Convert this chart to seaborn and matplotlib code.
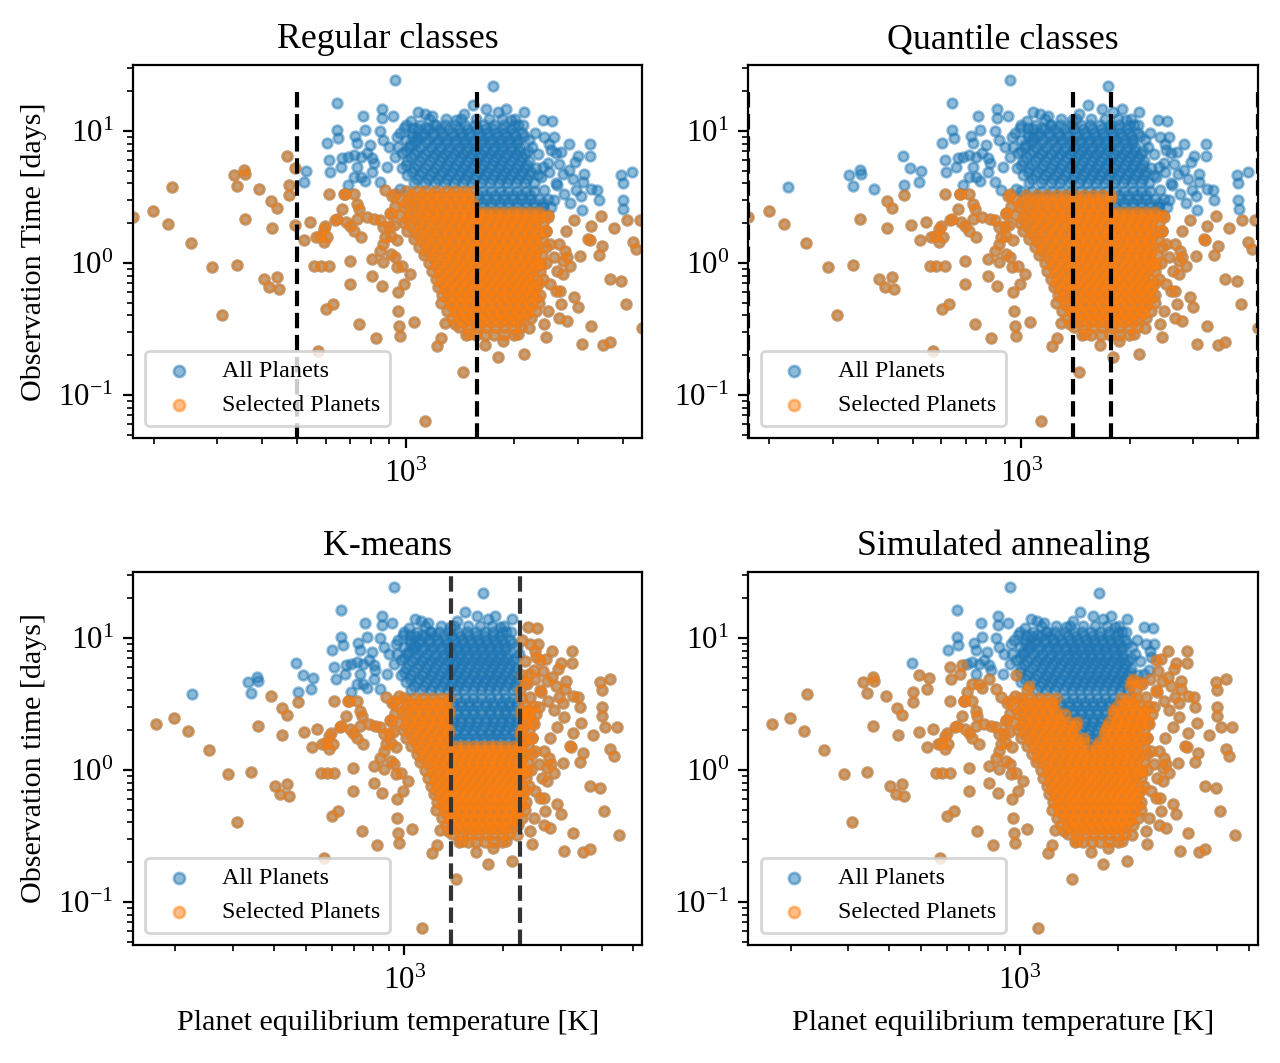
import numpy as np
import pandas as pd
import matplotlib
matplotlib.use("Agg")
import matplotlib.pyplot as plt
import seaborn as sns

# ---------------- data ----------------
# scattered planets: equilibrium temperature [K] and observation time [days]
sparse_temp = [
    175, 199, 219, 225, 253, 290, 308, 333, 341, 356, 358, 341, 357, 391, 403, 418, 438, 444,
    423, 438, 425, 468, 473, 473, 491, 521, 527, 494, 522, 543, 570, 557, 581, 612, 601, 628,
    591, 605, 612,
    603, 612, 617, 643, 643, 650, 666, 659, 724, 733, 760, 768, 733, 750, 768, 716, 806, 846,
    690, 796, 806, 816, 857, 857, 920, 931, 846, 866, 898, 942, 988, 690, 716, 750, 778, 887,
    931, 976, 1024, 1074, 1080, 1127, 1182, 1036, 1044, 1132, 1210, 1531, 1672, 1796, 1898,
    2125, 1953, 2050, 1449, 1380, 1742,
    699, 699, 666, 643, 677, 699, 733, 742, 806, 806, 826, 846, 856, 949, 953, 957, 965, 1054,
    1133, 1216, 1255, 1285, 1442, 1796, 2125, 674, 716, 742, 635, 682, 733, 716, 750, 778, 816,
    866, 898, 909, 909, 877, 866, 846, 866, 909, 931, 942, 976, 1024, 988, 577, 563, 591, 598,
    877, 931, 965,
    1500, 1652, 1862, 2049, 2200, 1364,
    2393, 2541, 2567, 2831, 3243, 3243, 3004, 2831, 2720, 3112, 2500, 2520, 2400, 2500,
    3956, 4249, 4000, 4000, 4010, 4100, 4456, 4250, 4350, 3770, 3467, 3430, 3390, 3270, 2970,
    2860, 3070, 2930, 3270, 3200, 3500, 3430, 3040, 2760, 2730, 2860, 3230, 2780,
    3680, 3960, 4075, 4530, 3267, 3077, 3510, 3680, 3000, 2930, 2670, 2790, 2450,
    2449, 2513, 2570, 2630, 2513, 2601, 2696, 2482, 2422, 2665, 2365, 2796, 2665, 2727, 2393,
    2482, 2570, 2422, 2601, 2365, 2482, 2601, 2422, 2650, 2950, 3100, 2750, 2700, 2900, 3050,
    2620,
    915, 935, 905, 925, 945,
]
sparse_days = [
    2.23, 2.46, 1.98, 3.78, 1.41, 0.93, 0.404, 4.62, 3.84, 5.05, 4.72, 0.97, 2.14, 3.62, 0.755,
    0.653, 0.778, 0.634, 2.95, 2.62, 1.85, 6.45, 3.25, 3.88, 5.26, 4.11, 4.96, 1.95, 1.48, 2.04,
    0.215, 0.94, 0.955, 0.955, 0.447, 0.488, 1.81, 1.57, 3.35,
    8.15, 6.0, 4.9, 16.2, 10.1, 8.8, 6.2, 5.35, 9.2, 8.15, 13.0, 10.1, 5.35, 4.49, 4.18, 4.49,
    4.9, 4.1, 3.88, 7.8, 6.2, 5.67, 14.6, 12.5, 13.0, 24.5, 9.9, 8.5, 7.6, 9.0, 10.5, 6.4, 6.55,
    6.4, 6.8, 5.35, 6.4, 6.8, 7.8, 9.0, 13.8, 13.5, 13.0, 11.8, 10.5, 10.5, 11.1, 15.8, 14.6,
    14.0, 14.6, 14.0, 12.1, 11.1, 13.5, 12.1, 21.8,
    1.03, 0.692, 2.58, 2.16, 3.35, 1.89, 2.81, 0.343, 1.07, 0.80, 0.272, 2.10, 0.67, 0.598,
    0.434, 0.333, 0.28, 0.36, 0.063, 0.235, 0.272, 0.353, 0.150, 0.195, 0.205, 3.31, 3.35, 2.58,
    2.10, 2.04, 2.16, 1.76, 1.57, 2.23, 2.16, 1.87, 1.92, 2.36, 1.61, 1.57, 1.39, 1.24, 1.01,
    1.17, 1.10, 0.93, 0.955, 0.825, 0.69, 1.61, 1.57, 1.44, 1.92,
    3.55, 3.35, 3.66,
    0.288, 0.241, 0.256, 0.288, 0.324, 0.343,
    12.1, 11.8, 9.06, 7.9, 7.9, 6.45, 6.45, 5.05, 4.75, 4.7, 8.0, 7.2, 5.3, 4.9,
    4.6, 4.9, 4.0, 2.98, 2.58, 2.1, 2.1, 1.44, 1.28, 1.85, 2.25, 2.98, 3.55, 3.66, 3.55,
    2.85, 2.5, 2.1, 1.92, 1.52, 1.35, 1.14, 1.12, 1.24, 1.04, 0.94, 1.48, 1.76,
    0.755, 0.73, 0.487, 0.32, 0.333, 0.245, 0.24, 0.25, 0.46, 0.555, 0.616, 0.364, 0.275,
    1.76, 1.39, 1.10, 0.874, 0.692, 0.616, 0.487, 0.434, 0.343, 0.386, 0.982, 1.10, 1.39, 0.825,
    2.65, 2.23, 2.98, 3.55, 4.0, 4.49, 5.68, 6.75, 9.06, 5.6, 5.8, 4.1, 3.3, 6.9, 4.3, 3.2,
    3.9,
    3.2, 2.7, 2.4, 1.95, 1.5,
]

# dense core of the distribution, estimated row by row (days, temperatures)
core_days = [12.3, 11.0, 10.3, 9.7, 9.1, 8.6, 8.1, 7.6, 7.1, 6.7, 6.3, 5.9, 5.55, 5.2, 4.9,
             4.6, 4.3, 4.05,
             3.5, 3.25, 3.05, 2.85, 2.65, 2.45, 2.3, 2.15, 2.0, 1.87, 1.74, 1.62, 1.51, 1.41,
             1.32, 1.23, 1.15, 1.07, 1.0, 0.93, 0.87, 0.81, 0.76, 0.71, 0.66, 0.62, 0.575,
             0.54, 0.5, 0.47, 0.435, 0.41, 0.38, 0.355, 0.33, 0.285]
core_temps = [
    [1160, 1290, 1420, 1560, 1700, 1850, 2010],
    [1000, 1095, 1200, 1280, 1370, 1460, 1550, 1650, 1760, 1870, 1990, 2110],
    [1080, 1160, 1240, 1320, 1400, 1480, 1570, 1660, 1760, 1860, 1960],
    [960, 1040, 1120, 1190, 1260, 1340, 1420, 1500, 1590, 1680, 1780, 1880, 1990, 2100, 2280],
    [1040, 1110, 1190, 1270, 1350, 1430, 1510, 1600, 1690, 1790, 1900, 2010, 2130],
    [1000, 1075, 1150, 1225, 1300, 1380, 1460, 1545, 1635, 1730, 1830, 1935, 2045, 2200],
    [1060, 1135, 1210, 1290, 1370, 1450, 1530, 1620, 1710, 1810, 1920, 2030],
    [950, 1020, 1095, 1170, 1245, 1320, 1400, 1480, 1565, 1655, 1750, 1850, 1960, 2070, 2240],
    [1000, 1075, 1150, 1230, 1310, 1390, 1470, 1555, 1645, 1740, 1840, 1950, 2060, 2180],
    [1055, 1130, 1205, 1280, 1360, 1440, 1525, 1615, 1710, 1810, 1910, 2020, 2140, 2330],
    [1030, 1110, 1185, 1260, 1340, 1420, 1505, 1590, 1680, 1780, 1880, 1990, 2100],
    [1010, 1090, 1165, 1240, 1320, 1400, 1480, 1565, 1655, 1750, 1850, 1960, 2070, 2190],
    [1000, 1070, 1150, 1225, 1300, 1380, 1460, 1545, 1635, 1730, 1830, 1935, 2045, 2170],
    [975, 1050, 1130, 1205, 1280, 1360, 1440, 1525, 1615, 1710, 1810, 1910, 2020, 2140, 2290],
    [1040, 1110, 1190, 1265, 1340, 1420, 1500, 1590, 1680, 1780, 1880, 1990, 2100, 2220],
    [1010, 1090, 1165, 1240, 1320, 1400, 1480, 1565, 1655, 1750, 1850, 1960, 2070, 2190, 2330],
    [1070, 1150, 1225, 1300, 1380, 1460, 1545, 1635, 1730, 1830, 1935, 2045, 2170],
    [1050, 1130, 1205, 1280, 1360, 1440, 1525, 1615, 1710, 1810, 1910, 2020, 2140, 2260],
    [1000, 1070, 1140, 1215, 1290, 1370, 1450, 1535, 1625, 1720, 1820, 1925, 2035, 2150, 2270],
    [1030, 1105, 1180, 1255, 1330, 1410, 1490, 1580, 1670, 1770, 1870, 1980, 2090, 2210],
    [960, 1035, 1105, 1180, 1255, 1330, 1410, 1490, 1580, 1670, 1770, 1870, 1980, 2090, 2210, 2340, 2480],
    [1000, 1070, 1140, 1215, 1290, 1370, 1450, 1535, 1625, 1720, 1820, 1925, 2035, 2150, 2270, 2400],
    [990, 1070, 1140, 1215, 1290, 1370, 1450, 1535, 1625, 1720, 1820, 1925, 2035, 2150, 2270, 2400, 2530],
    [1030, 1105, 1180, 1255, 1330, 1410, 1490, 1580, 1670, 1770, 1870, 1980, 2090, 2210, 2340],
    [960, 1035, 1105, 1180, 1255, 1330, 1410, 1490, 1580, 1670, 1770, 1870, 1980, 2090, 2210, 2340, 2470],
    [1010, 1090, 1165, 1240, 1320, 1400, 1480, 1565, 1655, 1750, 1850, 1960, 2070, 2190, 2320],
    [990, 1070, 1140, 1215, 1290, 1370, 1450, 1535, 1625, 1720, 1820, 1925, 2035, 2150, 2270, 2400],
    [1040, 1120, 1200, 1280, 1360, 1440, 1525, 1615, 1710, 1810, 1910, 2020, 2140, 2260],
    [1010, 1090, 1165, 1240, 1320, 1400, 1480, 1565, 1655, 1750, 1850, 1960, 2070, 2190, 2320, 2450],
    [1080, 1160, 1240, 1320, 1400, 1480, 1565, 1655, 1750, 1850, 1960, 2070, 2190, 2320],
    [1050, 1130, 1205, 1280, 1360, 1440, 1525, 1615, 1710, 1810, 1910, 2020, 2140, 2260, 2390],
    [1120, 1200, 1280, 1360, 1440, 1525, 1615, 1710, 1810, 1910, 2020, 2140, 2260],
    [1090, 1165, 1240, 1320, 1400, 1480, 1565, 1655, 1750, 1850, 1960, 2070, 2190, 2320, 2450],
    [1140, 1220, 1300, 1380, 1460, 1545, 1635, 1730, 1830, 1935, 2045, 2160, 2290],
    [1120, 1205, 1280, 1360, 1440, 1525, 1615, 1710, 1810, 1910, 2020, 2140, 2260, 2390],
    [1200, 1280, 1360, 1440, 1525, 1615, 1710, 1810, 1910, 2020, 2140, 2260],
    [1160, 1240, 1320, 1400, 1480, 1565, 1655, 1750, 1850, 1960, 2070, 2190, 2320, 2440],
    [1220, 1300, 1380, 1460, 1545, 1635, 1730, 1830, 1935, 2045, 2160, 2290],
    [1180, 1260, 1340, 1420, 1500, 1590, 1680, 1780, 1880, 1990, 2100, 2220, 2350],
    [1240, 1320, 1400, 1480, 1565, 1655, 1750, 1850, 1960, 2070, 2190],
    [1210, 1290, 1370, 1450, 1535, 1625, 1720, 1820, 1925, 2035, 2150, 2270, 2400],
    [1250, 1330, 1410, 1490, 1580, 1670, 1770, 1870, 1980, 2090, 2210, 2340],
    [1230, 1310, 1390, 1470, 1555, 1645, 1740, 1840, 1945, 2055, 2170, 2300],
    [1290, 1370, 1450, 1535, 1625, 1720, 1820, 1925, 2035, 2150, 2270],
    [1260, 1340, 1420, 1500, 1590, 1680, 1780, 1880, 1990, 2100, 2220, 2350],
    [1300, 1380, 1460, 1545, 1635, 1730, 1830, 1935, 2045, 2160, 2290],
    [1250, 1330, 1410, 1490, 1580, 1670, 1770, 1870, 1980, 2090, 2210, 2340],
    [1340, 1420, 1500, 1590, 1680, 1780, 1880, 1990, 2100, 2220],
    [1300, 1380, 1460, 1545, 1635, 1730, 1830, 1935, 2045, 2160, 2290],
    [1390, 1470, 1555, 1645, 1740, 1840, 1945, 2055, 2170],
    [1340, 1420, 1500, 1590, 1680, 1780, 1880, 1990, 2100, 2220],
    [1450, 1540, 1630, 1720, 1820, 1930, 2040],
    [1400, 1490, 1580, 1670, 1770, 1870, 1980, 2090],
    [1470, 1560, 1660, 1760, 1870, 1990],
]

# class boundaries [K] and per-class observation-time cut [days] of each method
regular_edges = [500, 1573]
regular_cuts = [np.inf, 3.6, 2.5]
quantile_edges = [1387, 1774]
quantile_cuts = [3.45, 3.45, 2.5]
kmeans_edges = [1388, 2255]
kmeans_cuts = [3.7, 1.6, np.inf]
annealing_edges = [700, 1000, 1100, 1180, 1300, 1400, 1500, 1575, 1670, 1775, 1910, 2000,
                   2150, 2360, 2600]
annealing_cuts = [6.3, 5.3, 4.6, 4.0, 3.55, 2.8, 2.36, 1.87, 1.48, 1.66, 2.36, 3.16, 3.55,
                  5.05, 5.2, 8.5]

titles = ["Regular classes", "Quantile classes", "K-means", "Simulated annealing"]

# ---------------- build table ----------------
temps = list(sparse_temp)
days = list(sparse_days)
for d, row in zip(core_days, core_temps):
    temps += row
    days += [d] * len(row)
df = pd.DataFrame({"temp": np.array(temps, float), "days": np.array(days, float)})


def selected(edges, cuts):
    cls = np.searchsorted(edges, df["temp"].values, side="right")
    return df["days"].values < np.array(cuts)[cls]


# ---------------- style ----------------
plt.rcParams.update({
    "font.family": "serif",
    "font.serif": ["Liberation Serif", "DejaVu Serif"],
    "mathtext.fontset": "stix",
    "font.size": 10.8,
    "axes.titlesize": 12.9,
    "xtick.labelsize": 11.2,
    "ytick.labelsize": 11.2,
    "xtick.major.pad": 4.5,
    "legend.fontsize": 8.7,
})

C0, C1 = "#1f77b4", "#ff7f0e"
fig, axes = plt.subplots(2, 2, figsize=(6.4, 5.315), dpi=200)
fig.subplots_adjust(left=0.1039, right=0.9828, top=0.9389, bottom=0.1110,
                    wspace=0.208, hspace=0.359)

methods = [(regular_edges, regular_cuts), (quantile_edges, quantile_cuts),
           (kmeans_edges, kmeans_cuts), (annealing_edges, annealing_cuts)]
tmin, tmax = df["temp"].min(), df["temp"].max()
MS, LW = 12, 1.0

for i, ax in enumerate(axes.flat):
    edges, cuts = methods[i]
    sel = selected(edges, cuts)
    sns.scatterplot(data=df, x="temp", y="days", ax=ax, color=C0, alpha=0.5, s=MS,
                    edgecolor=C0, linewidth=LW, label="All Planets")
    sns.scatterplot(data=df[sel], x="temp", y="days", ax=ax, color=C1, alpha=0.5, s=MS,
                    edgecolor=C1, linewidth=LW, label="Selected Planets")
    ax.set_xscale("log")
    ax.set_yscale("log")
    ax.set_ylim(0.0472, 31.6)
    if i == 0:
        ax.vlines(regular_edges, 0.01, 21, colors="k", linestyles="dashed", lw=1.5)
    elif i == 1:
        ax.vlines([tmin] + quantile_edges + [tmax], 0.01, 21, colors="k",
                  linestyles="dashed", lw=1.5)
    elif i == 2:
        for e in kmeans_edges:
            ax.axvline(e, color="#333333", ls="--", lw=1.5)
    if i < 2:
        ax.set_xlim(tmin, tmax)
    ax.set_title(titles[i])
    if i >= 2:
        ax.set_xlabel("Planet equilibrium temperature [K]", labelpad=5)
    else:
        ax.set_xlabel("")
    if i == 0:
        ax.set_ylabel("Observation Time [days]")
    elif i == 2:
        ax.set_ylabel("Observation time [days]")
    else:
        ax.set_ylabel("")
    ax.legend(loc="lower left", markerscale=1.15)

fig.savefig("out.png", dpi=200)
